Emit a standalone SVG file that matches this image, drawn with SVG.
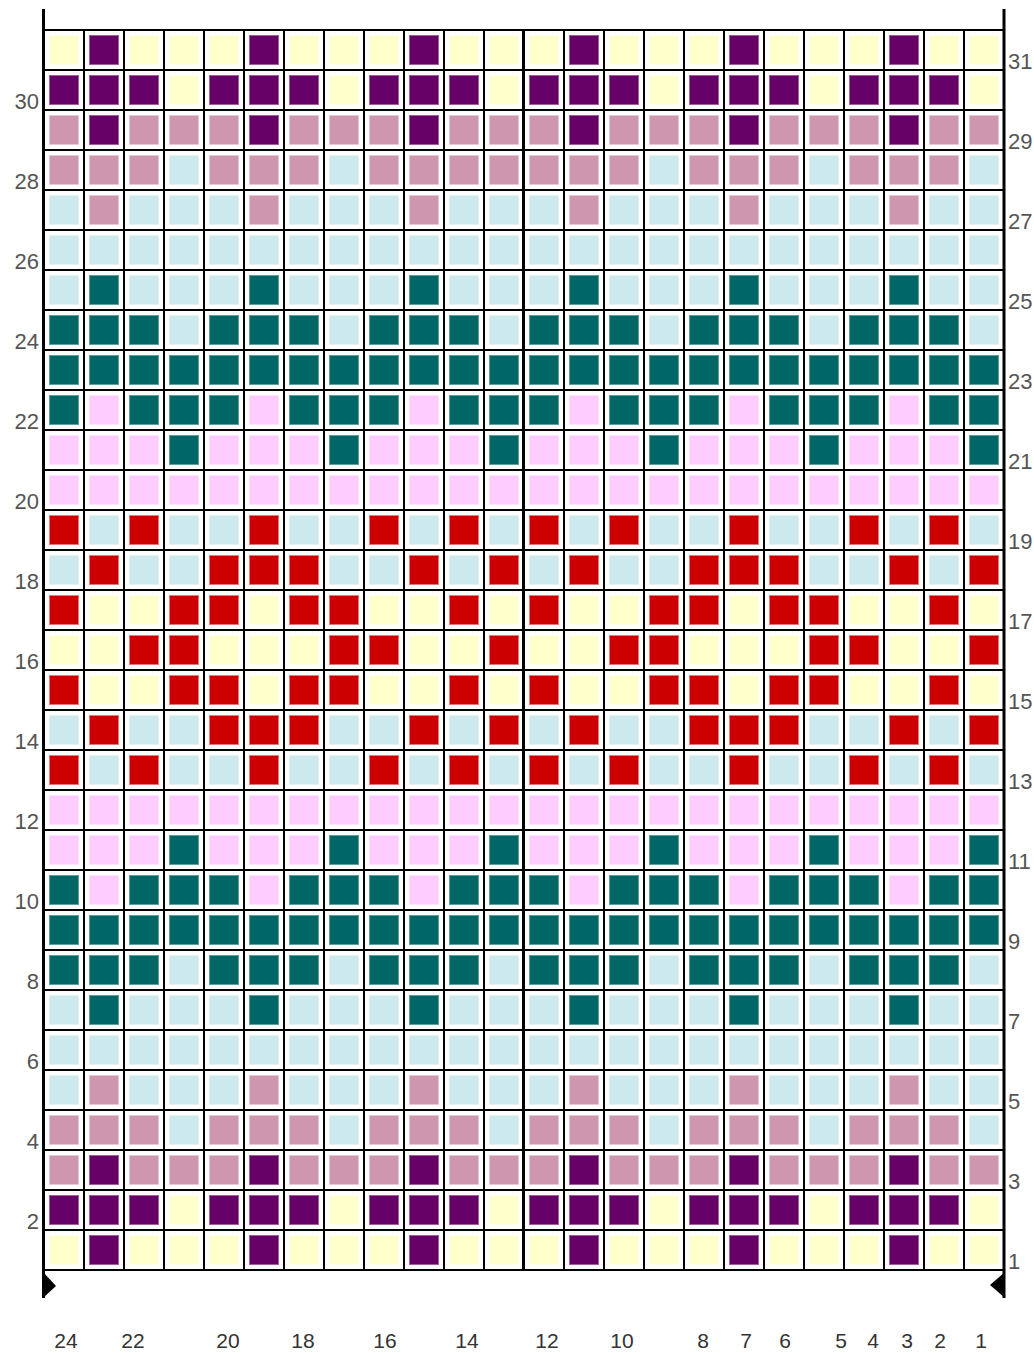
<svg xmlns="http://www.w3.org/2000/svg" xmlns:xlink="http://www.w3.org/1999/xlink" width="1034" height="1353" viewBox="0 0 1034 1353">
<style>
.y{fill:#FFFFCC;stroke:#FFFFE6}
.p{fill:#660066;stroke:#A060A0}
.m{fill:#CF97AF;stroke:#E8C8D6}
.b{fill:#CCE9EE;stroke:#E2F3F6}
.t{fill:#006666;stroke:#5E9E9E}
.l{fill:#FFCCFF;stroke:#FFE2FF}
.r{fill:#CC0000;stroke:#E07A7A}
.g{stroke:#000;fill:none}
.side{font-family:"Liberation Sans",Arial,sans-serif;font-size:22px;fill:#555}
.bot{font-family:"Liberation Sans",Arial,sans-serif;font-size:21px;fill:#333;text-anchor:middle}
</style>
<defs>
<rect id="Y" class="y" x="0.5" y="0.5" width="29" height="29"/>
<rect id="P" class="p" x="0.5" y="0.5" width="29" height="29"/>
<rect id="M" class="m" x="0.5" y="0.5" width="29" height="29"/>
<rect id="B" class="b" x="0.5" y="0.5" width="29" height="29"/>
<rect id="T" class="t" x="0.5" y="0.5" width="29" height="29"/>
<rect id="L" class="l" x="0.5" y="0.5" width="29" height="29"/>
<rect id="R" class="r" x="0.5" y="0.5" width="29" height="29"/>
<!-- 4-cell blocks -->
<g id="q31"><use href="#Y" x="49"/><use href="#P" x="89"/><use href="#Y" x="129"/><use href="#Y" x="169"/></g>
<g id="q30"><use href="#P" x="49"/><use href="#P" x="89"/><use href="#P" x="129"/><use href="#Y" x="169"/></g>
<g id="q29"><use href="#M" x="49"/><use href="#P" x="89"/><use href="#M" x="129"/><use href="#M" x="169"/></g>
<g id="q28"><use href="#M" x="49"/><use href="#M" x="89"/><use href="#M" x="129"/><use href="#B" x="169"/></g>
<g id="q27"><use href="#B" x="49"/><use href="#M" x="89"/><use href="#B" x="129"/><use href="#B" x="169"/></g>
<g id="q26"><use href="#B" x="49"/><use href="#B" x="89"/><use href="#B" x="129"/><use href="#B" x="169"/></g>
<g id="q25"><use href="#B" x="49"/><use href="#T" x="89"/><use href="#B" x="129"/><use href="#B" x="169"/></g>
<g id="q24"><use href="#T" x="49"/><use href="#T" x="89"/><use href="#T" x="129"/><use href="#B" x="169"/></g>
<g id="q23"><use href="#T" x="49"/><use href="#T" x="89"/><use href="#T" x="129"/><use href="#T" x="169"/></g>
<g id="q22"><use href="#T" x="49"/><use href="#L" x="89"/><use href="#T" x="129"/><use href="#T" x="169"/></g>
<g id="q21"><use href="#L" x="49"/><use href="#L" x="89"/><use href="#L" x="129"/><use href="#T" x="169"/></g>
<g id="q20"><use href="#L" x="49"/><use href="#L" x="89"/><use href="#L" x="129"/><use href="#L" x="169"/></g>
<!-- rows -->
<g id="r31"><use href="#q31"/><use href="#q31" x="160"/><use href="#q31" x="320"/><use href="#q31" x="480"/><use href="#q31" x="640"/><use href="#q31" x="800"/></g>
<g id="r30"><use href="#q30"/><use href="#q30" x="160"/><use href="#q30" x="320"/><use href="#q30" x="480"/><use href="#q30" x="640"/><use href="#q30" x="800"/></g>
<g id="r29"><use href="#q29"/><use href="#q29" x="160"/><use href="#q29" x="320"/><use href="#q29" x="480"/><use href="#q29" x="640"/><use href="#q29" x="800"/></g>
<g id="r28"><use href="#q28"/><use href="#q28" x="160"/><use href="#M" x="369"/><use href="#M" x="409"/><use href="#M" x="449"/><use href="#M" x="489"/><use href="#q28" x="480"/><use href="#q28" x="640"/><use href="#q28" x="800"/></g>
<g id="r4"><use href="#q28"/><use href="#q28" x="160"/><use href="#q28" x="320"/><use href="#q28" x="480"/><use href="#q28" x="640"/><use href="#q28" x="800"/></g>
<g id="r27"><use href="#q27"/><use href="#q27" x="160"/><use href="#q27" x="320"/><use href="#q27" x="480"/><use href="#q27" x="640"/><use href="#q27" x="800"/></g>
<g id="r26"><use href="#q26"/><use href="#q26" x="160"/><use href="#q26" x="320"/><use href="#q26" x="480"/><use href="#q26" x="640"/><use href="#q26" x="800"/></g>
<g id="r25"><use href="#q25"/><use href="#q25" x="160"/><use href="#q25" x="320"/><use href="#q25" x="480"/><use href="#q25" x="640"/><use href="#q25" x="800"/></g>
<g id="r24"><use href="#q24"/><use href="#q24" x="160"/><use href="#q24" x="320"/><use href="#q24" x="480"/><use href="#q24" x="640"/><use href="#q24" x="800"/></g>
<g id="r23"><use href="#q23"/><use href="#q23" x="160"/><use href="#q23" x="320"/><use href="#q23" x="480"/><use href="#q23" x="640"/><use href="#q23" x="800"/></g>
<g id="r22"><use href="#q22"/><use href="#q22" x="160"/><use href="#q22" x="320"/><use href="#q22" x="480"/><use href="#q22" x="640"/><use href="#q22" x="800"/></g>
<g id="r21"><use href="#q21"/><use href="#q21" x="160"/><use href="#q21" x="320"/><use href="#q21" x="480"/><use href="#q21" x="640"/><use href="#q21" x="800"/></g>
<g id="r20"><use href="#q20"/><use href="#q20" x="160"/><use href="#q20" x="320"/><use href="#q20" x="480"/><use href="#q20" x="640"/><use href="#q20" x="800"/></g>
<!-- 12-cell blocks -->
<g id="s19"><use href="#R" x="49"/><use href="#B" x="89"/><use href="#R" x="129"/><use href="#B" x="169"/><use href="#B" x="209"/><use href="#R" x="249"/><use href="#B" x="289"/><use href="#B" x="329"/><use href="#R" x="369"/><use href="#B" x="409"/><use href="#R" x="449"/><use href="#B" x="489"/></g>
<g id="s18"><use href="#B" x="49"/><use href="#R" x="89"/><use href="#B" x="129"/><use href="#B" x="169"/><use href="#R" x="209"/><use href="#R" x="249"/><use href="#R" x="289"/><use href="#B" x="329"/><use href="#B" x="369"/><use href="#R" x="409"/><use href="#B" x="449"/><use href="#R" x="489"/></g>
<g id="s17"><use href="#R" x="49"/><use href="#Y" x="89"/><use href="#Y" x="129"/><use href="#R" x="169"/><use href="#R" x="209"/><use href="#Y" x="249"/><use href="#R" x="289"/><use href="#R" x="329"/><use href="#Y" x="369"/><use href="#Y" x="409"/><use href="#R" x="449"/><use href="#Y" x="489"/></g>
<g id="s16"><use href="#Y" x="49"/><use href="#Y" x="89"/><use href="#R" x="129"/><use href="#R" x="169"/><use href="#Y" x="209"/><use href="#Y" x="249"/><use href="#Y" x="289"/><use href="#R" x="329"/><use href="#R" x="369"/><use href="#Y" x="409"/><use href="#Y" x="449"/><use href="#R" x="489"/></g>
<g id="r19"><use href="#s19"/><use href="#s19" x="480"/></g>
<g id="r18"><use href="#s18"/><use href="#s18" x="480"/></g>
<g id="r17"><use href="#s17"/><use href="#s17" x="480"/></g>
<g id="r16"><use href="#s16"/><use href="#s16" x="480"/></g>
</defs>

<g id="cells">
<use href="#r31" y="35"/>
<use href="#r30" y="75"/>
<use href="#r29" y="115"/>
<use href="#r28" y="155"/>
<use href="#r27" y="195"/>
<use href="#r26" y="235"/>
<use href="#r25" y="275"/>
<use href="#r24" y="315"/>
<use href="#r23" y="355"/>
<use href="#r22" y="395"/>
<use href="#r21" y="435"/>
<use href="#r20" y="475"/>
<use href="#r19" y="515"/>
<use href="#r18" y="555"/>
<use href="#r17" y="595"/>
<use href="#r16" y="635"/>
<use href="#r17" y="675"/>
<use href="#r18" y="715"/>
<use href="#r19" y="755"/>
<use href="#r20" y="795"/>
<use href="#r21" y="835"/>
<use href="#r22" y="875"/>
<use href="#r23" y="915"/>
<use href="#r24" y="955"/>
<use href="#r25" y="995"/>
<use href="#r26" y="1035"/>
<use href="#r27" y="1075"/>
<use href="#r4" y="1115"/>
<use href="#r29" y="1155"/>
<use href="#r30" y="1195"/>
<use href="#r31" y="1235"/>
</g>

<g id="grid" class="g">
<path stroke-width="2" d="M84 30V1270M124 30V1270M164 30V1270M204 30V1270M244 30V1270M284 30V1270M324 30V1270M364 30V1270M404 30V1270M444 30V1270M484 30V1270M564 30V1270M604 30V1270M644 30V1270M684 30V1270M724 30V1270M764 30V1270M804 30V1270M844 30V1270M884 30V1270M924 30V1270M964 30V1270"/>
<path stroke-width="2" d="M44 30H1004M44 70H1004M44 110H1004M44 150H1004M44 190H1004M44 230H1004M44 270H1004M44 310H1004M44 350H1004M44 390H1004M44 430H1004M44 470H1004M44 510H1004M44 550H1004M44 590H1004M44 630H1004M44 670H1004M44 710H1004M44 750H1004M44 790H1004M44 830H1004M44 870H1004M44 910H1004M44 950H1004M44 990H1004M44 1030H1004M44 1070H1004M44 1110H1004M44 1150H1004M44 1190H1004M44 1230H1004M44 1270H1004"/>
<path stroke-width="3" d="M43.5 9V1298M1004 9V1298M523.5 30V1270"/>
</g>
<g id="markers" fill="#000">
<polygon points="43,1272 56,1286 43,1298"/>
<polygon points="1005,1272 990,1285 1005,1298"/>
</g>

<g id="left-labels" class="side" text-anchor="end">
<text x="39" y="109">30</text>
<text x="39" y="189">28</text>
<text x="39" y="269">26</text>
<text x="39" y="349">24</text>
<text x="39" y="429">22</text>
<text x="39" y="509">20</text>
<text x="39" y="589">18</text>
<text x="39" y="669">16</text>
<text x="39" y="749">14</text>
<text x="39" y="829">12</text>
<text x="39" y="909">10</text>
<text x="39" y="989">8</text>
<text x="39" y="1069">6</text>
<text x="39" y="1149">4</text>
<text x="39" y="1229">2</text>
</g>
<g id="right-labels" class="side">
<text x="1008" y="69">31</text>
<text x="1008" y="149">29</text>
<text x="1008" y="229">27</text>
<text x="1008" y="309">25</text>
<text x="1008" y="389">23</text>
<text x="1008" y="469">21</text>
<text x="1008" y="549">19</text>
<text x="1008" y="629">17</text>
<text x="1008" y="709">15</text>
<text x="1008" y="789">13</text>
<text x="1008" y="869">11</text>
<text x="1008" y="949">9</text>
<text x="1008" y="1029">7</text>
<text x="1008" y="1109">5</text>
<text x="1008" y="1189">3</text>
<text x="1008" y="1269">1</text>
</g>
<g id="bottom-labels" class="bot">
<text x="66" y="1348">24</text>
<text x="133" y="1348">22</text>
<text x="228" y="1348">20</text>
<text x="303" y="1348">18</text>
<text x="385" y="1348">16</text>
<text x="467" y="1348">14</text>
<text x="547" y="1348">12</text>
<text x="622" y="1348">10</text>
<text x="703" y="1348">8</text>
<text x="746" y="1348">7</text>
<text x="785" y="1348">6</text>
<text x="841" y="1348">5</text>
<text x="873" y="1348">4</text>
<text x="907" y="1348">3</text>
<text x="940" y="1348">2</text>
<text x="981" y="1348">1</text>
</g>
</svg>
